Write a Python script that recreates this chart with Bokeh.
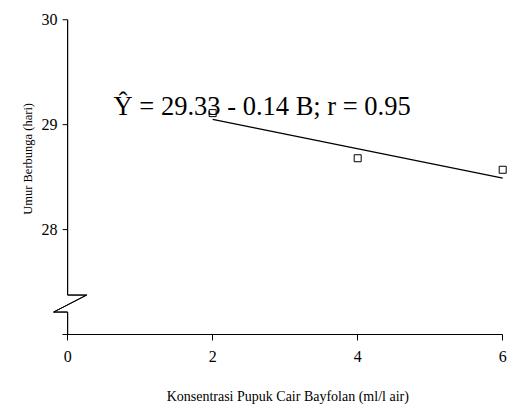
from bokeh.plotting import figure
from bokeh.models import Range1d, FixedTicker, Label, PolyAnnotation
from bokeh.embed import file_html
from bokeh.resources import INLINE

# data
konsentrasi = [2, 4, 6]
umur_berbunga = [29.11, 28.68, 28.57]
x_ticks = [0, 2, 4, 6]
y_ticks = [27, 28, 29, 30]
intercept = 29.33
slope = -0.14
equation = "Ŷ = 29.33 - 0.14 B; r = 0.95"
x_title = "Konsentrasi Pupuk Cair Bayfolan (ml/l air)"
y_title = "Umur Berbunga (hari)"

FONT = "Liberation Serif"
NB = "\u00a0"

p = figure(width=508, height=408, output_backend="svg", toolbar_location=None,
           x_range=Range1d(-0.25, 6.08), y_range=Range1d(27, 30.05),
           min_border_left=49, min_border_right=0, min_border_top=14, min_border_bottom=74)
p.outline_line_color = None
p.grid.visible = False
p.background_fill_color = "white"
p.border_fill_color = "white"

tick_len = 0.069  # length of y tick marks, in x units

# x axis
xa = p.xaxis[0]
xa.ticker = FixedTicker(ticks=x_ticks)
xa.bounds = (-tick_len, 6)
xa.major_tick_out = 6
xa.major_tick_in = 0
xa.minor_tick_line_color = None
xa.axis_line_color = "black"
xa.major_tick_line_color = "black"
xa.major_label_text_font = FONT
xa.major_label_text_font_size = "16px"
xa.major_label_text_color = "black"
xa.major_label_standoff = 10
xa.axis_label = NB * 5 + x_title
xa.axis_label_text_font = FONT
xa.axis_label_text_font_size = "14px"
xa.axis_label_text_font_style = "normal"
xa.axis_label_text_color = "black"
xa.axis_label_standoff = 24

# y axis: labels from Bokeh, line and ticks drawn at x = 0
ya = p.yaxis[0]
ya.ticker = FixedTicker(ticks=y_ticks)
ya.major_label_overrides = {27: ""}
ya.major_tick_out = 0
ya.major_tick_in = 0
ya.major_tick_line_color = None
ya.minor_tick_line_color = None
ya.axis_line_color = None
ya.major_label_text_font = FONT
ya.major_label_text_font_size = "16px"
ya.major_label_text_color = "black"
ya.major_label_standoff = -8
ya.axis_label = NB * 10 + y_title
ya.axis_label_text_font = FONT
ya.axis_label_text_font_size = "12.5px"
ya.axis_label_text_font_style = "normal"
ya.axis_label_text_color = "black"
ya.axis_label_standoff = 4

# y tick marks
tick_vals = [t for t in y_ticks if t > 27]
p.segment(x0=[-tick_len] * len(tick_vals), y0=tick_vals, x1=[0] * len(tick_vals), y1=tick_vals,
          line_color="black", line_width=1)

# y axis line with break mark
bt, bb = 27.376, 27.214   # break top / bottom
zr, zl = 0.262, -0.193    # zigzag right / left extents
path_x = [0, 0, zr, zl, 0, 0]
path_y = [30, bt, bt, bb, bb, 27]
xs = path_x + path_x[-2:0:-1]
ys = path_y + path_y[-2:0:-1]
p.add_layout(PolyAnnotation(xs=xs, ys=ys, fill_alpha=0, line_color="black",
                            line_alpha=1, line_width=1))

# regression line
line_x = [konsentrasi[0], konsentrasi[-1]]
line_y = [intercept + slope * v for v in line_x]
p.line(line_x, line_y, line_color="black", line_width=1.2)

# observed points
p.scatter(konsentrasi, umur_berbunga, marker="square", size=7,
          fill_color="white", line_color="black", line_width=1)

p.add_layout(Label(x=0.634, y=29.177, text=equation, text_font=FONT,
                   text_font_size="26.5px", text_color="black", text_baseline="alphabetic"))

open("out.html", "w").write(file_html(p, INLINE))
